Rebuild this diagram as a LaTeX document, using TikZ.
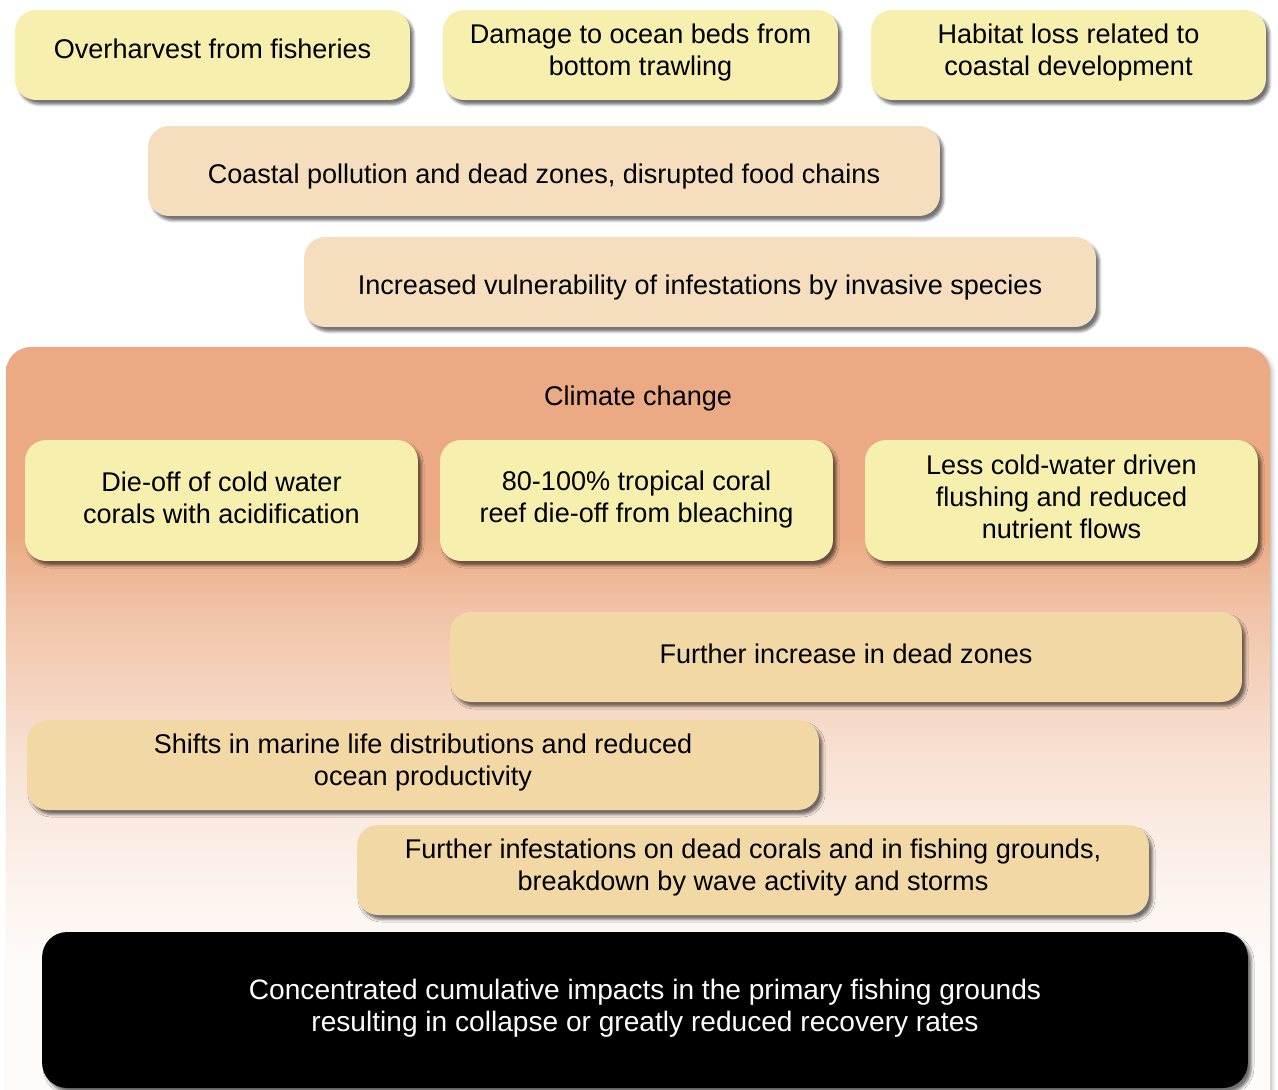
\documentclass[tikz,border=0pt]{standalone}
\usepackage{fontspec}
\setmainfont{Liberation Sans}
\usetikzlibrary{shadows.blur}
\definecolor{boxyellow}{HTML}{F6EFAE}
\definecolor{boxtan}{HTML}{F4DEBE}
\definecolor{boxsand}{HTML}{F2D8A5}
\definecolor{climorange}{HTML}{EBAA83}
\pgfdeclareverticalshading{climfade}{100bp}{color(0bp)=(white); color(35bp)=(climorange!4!white);
  color(41bp)=(climorange!15!white); color(49bp)=(climorange!36!white);
  color(58bp)=(climorange!70!white); color(63bp)=(climorange); color(100bp)=(climorange)}

\begin{document}
\begin{tikzpicture}[x=0.02cm,y=-0.02cm,font=\fontsize{15.4}{18.2}\selectfont,
  box/.style={rounded corners=0.42cm,align=center,inner sep=0pt,minimum height=1.8cm,
    blur shadow={shadow xshift=2pt,shadow yshift=-2.5pt,shadow blur radius=1.5pt,shadow opacity=55}},
  yelbox/.style={box,fill=boxyellow,minimum width=7.9cm},
  tanbox/.style={box,fill=boxtan,minimum width=15.84cm},
  sandbox/.style={box,fill=boxsand,minimum width=15.84cm},
  blackbox/.style={box,fill=black,text=white,minimum width=24.12cm,minimum height=3.12cm,rounded corners=0.5cm,
    font=\fontsize{16}{18.2}\selectfont}]
  \clip (0,0) rectangle (1278,1089);
  % Direct pressures
  \node[yelbox,text depth=6.8pt] (overharvest) at (212.5,55) {Overharvest from fisheries};
  \node[yelbox,text depth=5.6pt] (trawling) at (640.5,55) {Damage to ocean beds from\\bottom trawling};
  \node[yelbox,text depth=5.6pt] (habitat) at (1068.5,55) {Habitat loss related to\\coastal development};
  \node[tanbox,text height=17pt] (pollution) at (544,171) {Coastal pollution and dead zones, disrupted food chains};
  \node[tanbox,text height=17pt] (invasive) at (700,282) {Increased vulnerability of infestations by invasive species};
  % Climate change panel
  \shade[shading=climfade,rounded corners=0.5cm,
    blur shadow={shadow xshift=1.5pt,shadow yshift=-1.5pt,shadow opacity=25}] (6,347) rectangle (1270,1130);
  \node (climate) at (638,398) {Climate change};
  \node[yelbox,minimum height=2.42cm,minimum width=7.86cm,text depth=3.4pt] (coldwater) at (221.5,500.5) {Die-off of cold water\\corals with acidification};
  \node[yelbox,minimum height=2.42cm,minimum width=7.86cm,text depth=4.6pt] (bleaching) at (636.5,500.5) {80-100\% tropical coral\\reef die-off from bleaching};
  \node[yelbox,minimum height=2.42cm,minimum width=7.86cm,text depth=4.6pt] (flushing) at (1061.5,500.5) {Less cold-water driven\\flushing and reduced\\nutrient flows};
  \node[sandbox,text depth=3.4pt] (deadzones) at (846,657) {Further increase in dead zones};
  \node[sandbox,text depth=5.6pt] (shifts) at (423,765) {Shifts in marine life distributions and reduced\\ocean productivity};
  \node[sandbox,text depth=5.6pt] (infest) at (753,870) {Further infestations on dead corals and in fishing grounds,\\breakdown by wave activity and storms};
  % Outcome
  \node[blackbox,text depth=5.6pt] (impacts) at (645,1010) {Concentrated cumulative impacts in the primary fishing grounds\\resulting in collapse or greatly reduced recovery rates};
\end{tikzpicture}
\end{document}
